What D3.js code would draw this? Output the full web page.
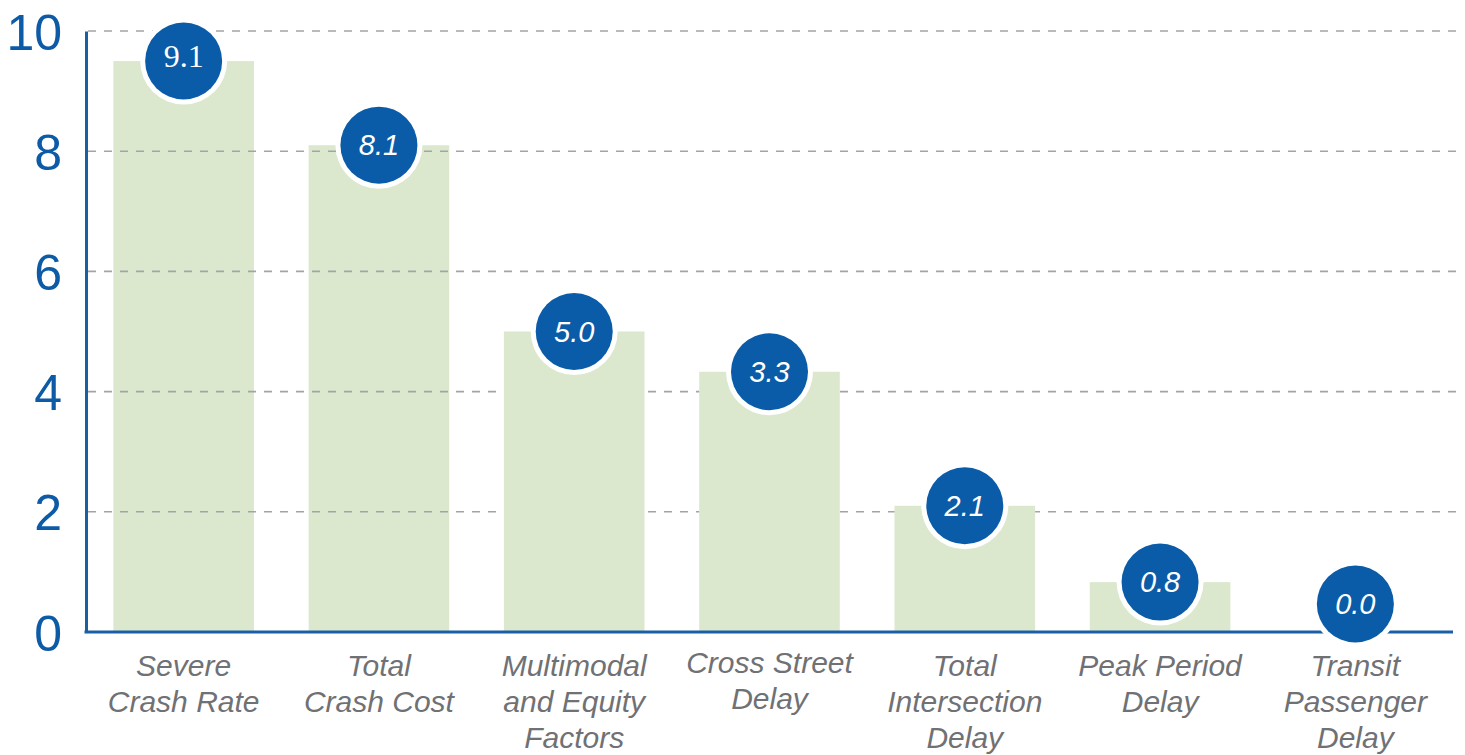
<!DOCTYPE html>
<html>
<head>
<meta charset="utf-8">
<script src="https://cdn.jsdelivr.net/npm/d3@7"></script>
<style>
  html, body { margin: 0; padding: 0; background: #ffffff; }
  svg { display: block; }
</style>
</head>
<body>
<svg id="chart" width="1465" height="755"></svg>
<script>
// ---- data ----
const categories = [
  ["Severe", "Crash Rate"],
  ["Total", "Crash Cost"],
  ["Multimodal", "and Equity", "Factors"],
  ["Cross Street", "Delay"],
  ["Total", "Intersection", "Delay"],
  ["Peak Period", "Delay"],
  ["Transit", "Passenger", "Delay"]
];
const barValues = [9.5, 8.1, 5.0, 4.33, 2.1, 0.83, 0.0];
const valueLabels = ["9.1", "8.1", "5.0", "3.3", "2.1", "0.8", "0.0"];
const yTicks = [0, 2, 4, 6, 8, 10];

// ---- layout ----
const svg = d3.select("#chart");
const plotLeft = 86, plotRight = 1453, plotTop = 31, plotBottom = 632;

const x = d3.scaleBand()
  .domain(d3.range(categories.length))
  .range([plotLeft, plotRight])
  .paddingInner(0.28)
  .paddingOuter(0.14);

const y = d3.scaleLinear().domain([0, 10]).range([plotBottom, plotTop]);

const blue = "#0a5ba8";
const barColor = "#dce8cd";

// bars drawn beneath grid (first two)
const barsBelow = svg.append("g");
// grid
const grid = svg.append("g");
// bars drawn above grid
const barsAbove = svg.append("g");

barValues.forEach((v, i) => {
  const g = i < 2 ? barsBelow : barsAbove;
  g.append("rect")
    .attr("x", x(i))
    .attr("y", y(v))
    .attr("width", x.bandwidth())
    .attr("height", y(0) - y(v))
    .attr("fill", barColor);
});

grid.selectAll("line")
  .data(yTicks.filter(t => t > 0))
  .join("line")
  .attr("x1", plotLeft + 2)
  .attr("x2", 1456)
  .attr("y1", d => y(d))
  .attr("y2", d => y(d))
  .attr("stroke", "#a4a4a6")
  .attr("stroke-width", 1.6)
  .attr("stroke-dasharray", "8,8");

// axes
const yAxis = d3.axisLeft(y).tickValues(yTicks).tickSize(0).tickPadding(24).tickFormat(d3.format("d"));
const yg = svg.append("g").attr("transform", `translate(${plotLeft},0)`).call(yAxis);
yg.select(".domain").attr("stroke", "#1a5fa6").attr("stroke-width", 3);
yg.selectAll("text")
  .attr("fill", "#0d5ba6")
  .attr("font-family", "Liberation Sans, Arial, sans-serif")
  .attr("font-size", 50)
  .attr("dy", "0.36em");

const xAxis = d3.axisBottom(x).tickSize(0).tickFormat("");
const xg = svg.append("g").attr("transform", `translate(0,${plotBottom})`).call(xAxis);
xg.select(".domain").attr("d", `M${plotLeft - 1.5},0H${plotRight}`).attr("stroke", "#1a5fa6").attr("stroke-width", 3);

// category labels
const labG = svg.append("g");
categories.forEach((lines, i) => {
  const t = labG.append("text")
    .attr("x", x(i) + x.bandwidth() / 2)
    .attr("y", 676)
    .attr("text-anchor", "middle")
    .attr("font-family", "Liberation Sans, Arial, sans-serif")
    .attr("font-style", "italic")
    .attr("font-size", 30)
    .attr("fill", "#707174");
  lines.forEach((ln, j) => {
    t.append("tspan")
      .attr("x", x(i) + x.bandwidth() / 2)
      .attr("dy", j === 0 ? (i === 3 ? -3 : 0) : 36)
      .text(ln);
  });
});

// value bubbles
const bubG = svg.append("g");
barValues.forEach((v, i) => {
  const cx = x(i) + x.bandwidth() / 2;
  const cy = Math.min(y(v), y(0) - 28);
  bubG.append("circle").attr("cx", cx).attr("cy", cy).attr("r", 43.5).attr("fill", "#ffffff");
  bubG.append("circle").attr("cx", cx).attr("cy", cy).attr("r", 38.5).attr("fill", blue);
  const serif = i === 0;
  bubG.append("text")
    .attr("x", cx)
    .attr("y", serif ? cy + 6 : cy + 10)
    .attr("text-anchor", "middle")
    .attr("fill", "#ffffff")
    .attr("font-family", serif ? "Liberation Serif, Times New Roman, serif" : "Liberation Sans, Arial, sans-serif")
    .attr("font-style", serif ? "normal" : "italic")
    .attr("font-size", serif ? 32 : 29)
    .text(valueLabels[i]);
});
</script>
</body>
</html>
